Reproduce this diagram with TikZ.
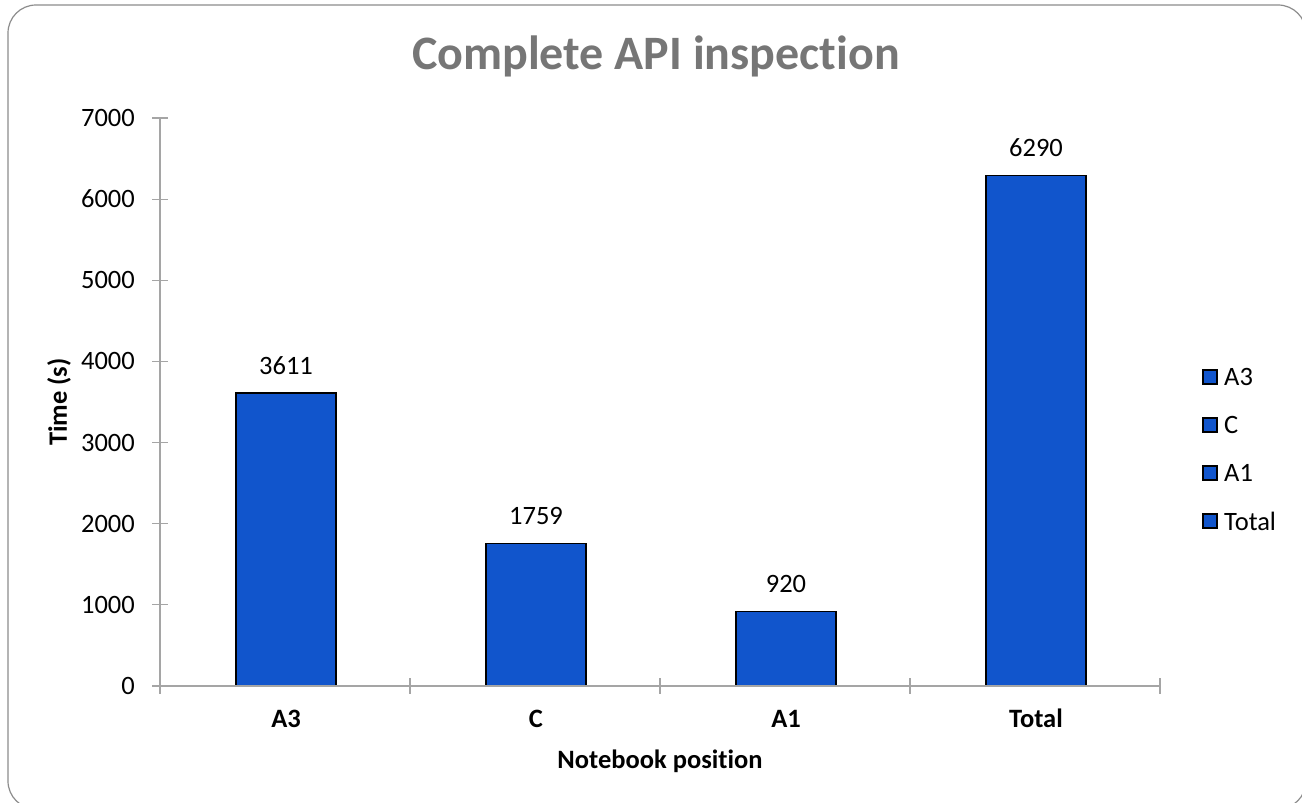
\documentclass[tikz,border=0pt]{standalone}
\usepackage{fontspec}
\setmainfont{Carlito}[Ligatures=CommonOff]
\definecolor{barblue}{RGB}{17,85,204}
\definecolor{axisgray}{RGB}{165,165,165}
\definecolor{framegray}{RGB}{140,140,140}
\definecolor{titlegray}{RGB}{118,118,118}
\begin{document}
\begin{tikzpicture}[x=1pt,y=-1pt,
  bar/.style={draw=black,line width=1.4pt,fill=barblue},
  axisline/.style={draw=axisgray,line width=1.2pt},
  ticklbl/.style={font=\fontsize{26.5}{30}\selectfont,inner sep=0pt},
  catlbl/.style={font=\fontsize{26.5}{30}\selectfont\bfseries,inner sep=0pt},
  vallbl/.style={font=\fontsize{26.5}{30}\selectfont,inner sep=0pt,anchor=base},
  legbox/.style={draw=black,line width=1.4pt,fill=barblue,minimum size=14pt,inner sep=0pt},
  leglbl/.style={font=\fontsize{26.5}{30}\selectfont,inner sep=0pt,anchor=west}]
\useasboundingbox (0,0) rectangle (1302,803);
\clip (0,0) rectangle (1302,803);
% frame
\draw[framegray,line width=1.2pt,rounded corners=28pt] (8,5) rectangle (1306,809);
% title
\node[font=\fontsize{48}{56}\selectfont\bfseries,text=titlegray] (title) at (656,56) {Complete API inspection};
% bars
\draw[bar] (236,686) rectangle (336,393.0);
\draw[bar] (486,686) rectangle (586,543.3);
\draw[bar] (736,686) rectangle (836,611.3);
\draw[bar] (986,686) rectangle (1086,175.6);
% value labels
\node[vallbl] (v1) at (286,374) {3611};
\node[vallbl] (v2) at (536,524.3) {1759};
\node[vallbl] (v3) at (786,592.3) {920};
\node[vallbl] (v4) at (1036,156.6) {6290};
% axes
\draw[axisline] (160,118) -- (160,686) -- (1160,686);
\foreach \v in {0,1000,...,7000}{
  \pgfmathsetmacro\yy{686-\v*0.081143}
  \draw[axisline] (152,\yy) -- (168,\yy);
  \node[ticklbl,anchor=east] (yt\v) at (135,\yy) {\v};
}
\foreach \x in {160,410,660,910,1160}{
  \draw[axisline] (\x,678) -- (\x,694);
}
% category labels
\node[catlbl,anchor=base] (c1) at (286,727) {A3};
\node[catlbl,anchor=base] (c2) at (536,727) {C};
\node[catlbl,anchor=base] (c3) at (786,727) {A1};
\node[catlbl,anchor=base] (c4) at (1036,727) {Total};
% axis titles
\node[catlbl,anchor=base] (xtitle) at (660,768) {Notebook position};
\node[catlbl,rotate=90] (ytitle) at (59,402) {Time (s)};
% legend
\foreach \t/\yy/\n in {A3/377/1,C/425/2,A1/473/3,Total/521/4}{
  \node[legbox] (lb\n) at (1210,\yy) {};
  \node[leglbl] (ll\n) at (1224,\yy) {\t};
}
\end{tikzpicture}
\end{document}
